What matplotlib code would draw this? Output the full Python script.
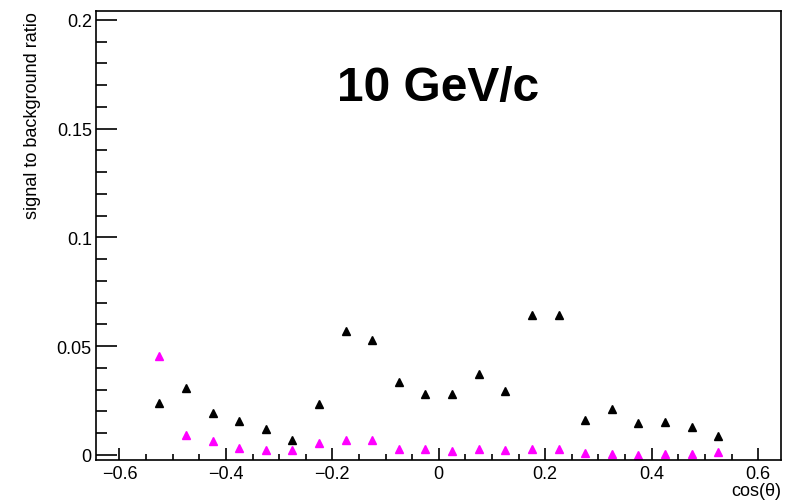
import numpy as np
import matplotlib
matplotlib.use('Agg')
import matplotlib.pyplot as plt
from matplotlib.ticker import MultipleLocator, FuncFormatter

plt.rcParams['font.family'] = ['Liberation Sans', 'DejaVu Sans']

# bin centres in cos(theta)
cos_theta = [-0.525, -0.475, -0.425, -0.375, -0.325, -0.275, -0.225, -0.175, -0.125, -0.075, -0.025,
             0.025, 0.075, 0.125, 0.175, 0.225, 0.275, 0.325, 0.375, 0.425, 0.475, 0.525]

# black triangles
ratio_black = [0.0240, 0.0309, 0.0191, 0.0157, 0.0119, 0.0066, 0.0235, 0.0570, 0.0529, 0.0335, 0.0278,
               0.0280, 0.0373, 0.0294, 0.0644, 0.0641, 0.0161, 0.0210, 0.0147, 0.0151, 0.0130, 0.0086]

# magenta triangles
ratio_magenta = [0.0453, 0.0093, 0.0063, 0.0031, 0.0020, 0.0024, 0.0055, 0.0069, 0.0069, 0.0026, 0.0029,
                 0.0018, 0.0028, 0.0022, 0.0029, 0.0026, 0.0008, 0.0006, 0.0001, 0.0003, 0.0003, 0.0012]

fig = plt.figure(figsize=(7.89, 5.02), dpi=100)
ax = fig.add_axes([0.1217, 0.0807, 0.8682, 0.8953])

ax.plot(cos_theta, ratio_black, linestyle='none', marker='^', ms=5.5, color='black')
ax.plot(cos_theta, ratio_magenta, linestyle='none', marker='^', ms=5.5, color='#ff00ff', mec='#ff00ff')

ax.set_xlim(-0.644, 0.643)
ax.set_ylim(-0.0026, 0.2041)

ax.xaxis.set_major_locator(MultipleLocator(0.2))
ax.xaxis.set_minor_locator(MultipleLocator(0.05))
ax.yaxis.set_major_locator(MultipleLocator(0.05))
ax.yaxis.set_minor_locator(MultipleLocator(0.01))

fmt = FuncFormatter(lambda v, p: ('%g' % round(v, 4)).replace('-', '\u2212'))
ax.xaxis.set_major_formatter(fmt)
ax.yaxis.set_major_formatter(fmt)

ax.tick_params(axis='x', which='major', direction='in', length=8.6, width=1.2, labelsize=13, pad=3)
ax.tick_params(axis='x', which='minor', direction='in', length=4.3, width=1.2)
ax.tick_params(axis='y', which='major', direction='in', length=15, width=1.2, labelsize=13, pad=3)
ax.tick_params(axis='y', which='minor', direction='in', length=8, width=1.2)

for s in ax.spines.values():
    s.set_linewidth(1.2)

ax.text(0.5, 0.831, '10 GeV/c', transform=ax.transAxes, ha='center', va='center',
        fontsize=34.5, fontweight='bold')

fig.text(781 / 789, 1 - 492 / 502, 'cos(\u03b8)', ha='right', va='center', fontsize=13)
fig.text(33 / 789, 1 - 12 / 502, 'signal to background ratio', rotation=90,
         ha='center', va='top', fontsize=13)

fig.savefig('out.png', dpi=100)
